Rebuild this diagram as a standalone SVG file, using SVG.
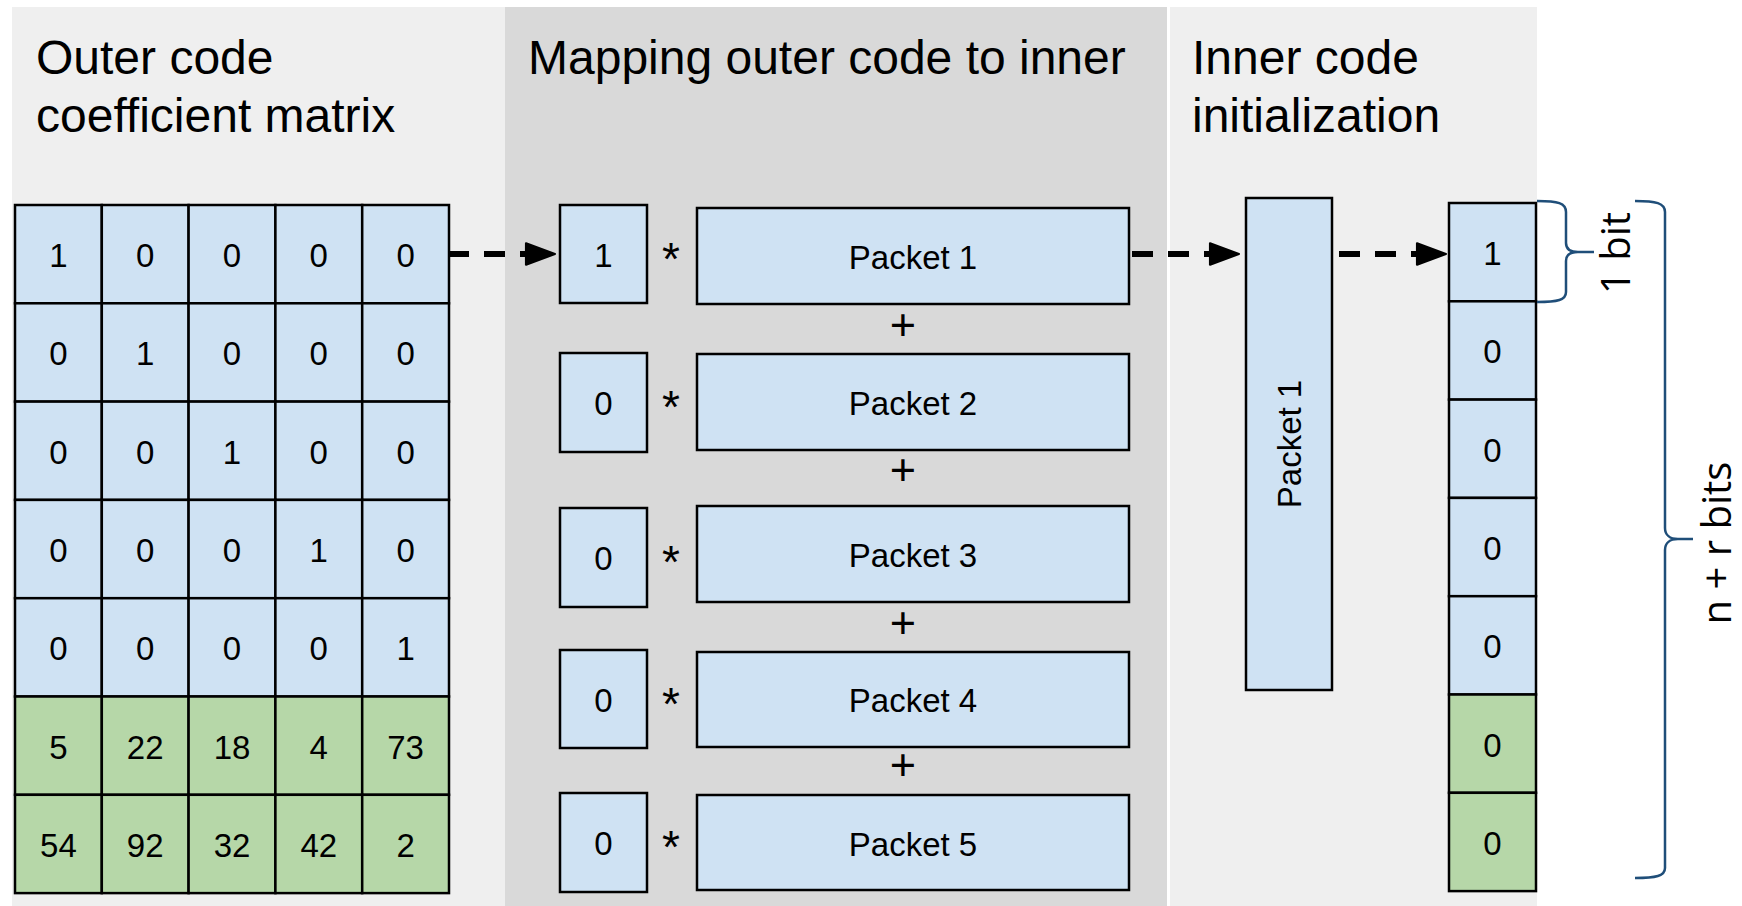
<svg xmlns="http://www.w3.org/2000/svg" width="1742" height="906" viewBox="0 0 1742 906">
<style>
.t{font-family:"Liberation Sans",Arial,sans-serif;fill:#000}
.title{font-size:48px}
.v{font-size:33px;text-anchor:middle}
.star{font-size:46px;text-anchor:middle}
.plus{font-size:45px;text-anchor:middle}
.b{fill:#cfe2f3;stroke:#000;stroke-width:2.5}
.g{fill:#b6d7a8;stroke:#000;stroke-width:2.5}
.dash{fill:none;stroke:#000;stroke-width:6;stroke-dasharray:21 15}
.brace{fill:none;stroke:#1f4e79;stroke-width:2.5}
.bt{font-family:"Open Sans","Noto Sans",sans-serif;font-size:40px;fill:#000;text-anchor:middle}
</style>
<defs>
<marker id="ah" markerUnits="userSpaceOnUse" markerWidth="40" markerHeight="30" viewBox="-3 -14 34 28" refX="0" refY="0" orient="auto">
<path d="M0,-10 L27,0 L0,10 Z" fill="#000" stroke="#000" stroke-width="2" stroke-linejoin="round"/>
</marker>
</defs>

<g id="panels">
<rect x="12" y="7" width="493" height="899" fill="#efefef"/>
<rect x="505" y="7" width="662" height="899" fill="#d9d9d9"/>
<rect x="1170" y="7" width="367" height="899" fill="#efefef"/>
</g>

<g id="titles">
<text class="t title" x="36" y="74">Outer code</text>
<text class="t title" x="36" y="132">coefficient matrix</text>
<text class="t title" x="528" y="74">Mapping outer code to inner</text>
<text class="t title" x="1192" y="74">Inner code</text>
<text class="t title" x="1192" y="132">initialization</text>
</g>

<g id="matrix">
<rect class="b" x="15" y="205" width="86.8" height="98.3"/><rect class="b" x="101.8" y="205" width="86.8" height="98.3"/><rect class="b" x="188.6" y="205" width="86.8" height="98.3"/><rect class="b" x="275.4" y="205" width="86.8" height="98.3"/><rect class="b" x="362.2" y="205" width="86.8" height="98.3"/>
<rect class="b" x="15" y="303.3" width="86.8" height="98.3"/><rect class="b" x="101.8" y="303.3" width="86.8" height="98.3"/><rect class="b" x="188.6" y="303.3" width="86.8" height="98.3"/><rect class="b" x="275.4" y="303.3" width="86.8" height="98.3"/><rect class="b" x="362.2" y="303.3" width="86.8" height="98.3"/>
<rect class="b" x="15" y="401.6" width="86.8" height="98.3"/><rect class="b" x="101.8" y="401.6" width="86.8" height="98.3"/><rect class="b" x="188.6" y="401.6" width="86.8" height="98.3"/><rect class="b" x="275.4" y="401.6" width="86.8" height="98.3"/><rect class="b" x="362.2" y="401.6" width="86.8" height="98.3"/>
<rect class="b" x="15" y="499.9" width="86.8" height="98.3"/><rect class="b" x="101.8" y="499.9" width="86.8" height="98.3"/><rect class="b" x="188.6" y="499.9" width="86.8" height="98.3"/><rect class="b" x="275.4" y="499.9" width="86.8" height="98.3"/><rect class="b" x="362.2" y="499.9" width="86.8" height="98.3"/>
<rect class="b" x="15" y="598.2" width="86.8" height="98.3"/><rect class="b" x="101.8" y="598.2" width="86.8" height="98.3"/><rect class="b" x="188.6" y="598.2" width="86.8" height="98.3"/><rect class="b" x="275.4" y="598.2" width="86.8" height="98.3"/><rect class="b" x="362.2" y="598.2" width="86.8" height="98.3"/>
<rect class="g" x="15" y="696.5" width="86.8" height="98.3"/><rect class="g" x="101.8" y="696.5" width="86.8" height="98.3"/><rect class="g" x="188.6" y="696.5" width="86.8" height="98.3"/><rect class="g" x="275.4" y="696.5" width="86.8" height="98.3"/><rect class="g" x="362.2" y="696.5" width="86.8" height="98.3"/>
<rect class="g" x="15" y="794.8" width="86.8" height="98.3"/><rect class="g" x="101.8" y="794.8" width="86.8" height="98.3"/><rect class="g" x="188.6" y="794.8" width="86.8" height="98.3"/><rect class="g" x="275.4" y="794.8" width="86.8" height="98.3"/><rect class="g" x="362.2" y="794.8" width="86.8" height="98.3"/>
<text class="t v" x="58.4" y="267">1</text><text class="t v" x="145.2" y="267">0</text><text class="t v" x="232" y="267">0</text><text class="t v" x="318.8" y="267">0</text><text class="t v" x="405.6" y="267">0</text>
<text class="t v" x="58.4" y="365.3">0</text><text class="t v" x="145.2" y="365.3">1</text><text class="t v" x="232" y="365.3">0</text><text class="t v" x="318.8" y="365.3">0</text><text class="t v" x="405.6" y="365.3">0</text>
<text class="t v" x="58.4" y="463.6">0</text><text class="t v" x="145.2" y="463.6">0</text><text class="t v" x="232" y="463.6">1</text><text class="t v" x="318.8" y="463.6">0</text><text class="t v" x="405.6" y="463.6">0</text>
<text class="t v" x="58.4" y="561.9">0</text><text class="t v" x="145.2" y="561.9">0</text><text class="t v" x="232" y="561.9">0</text><text class="t v" x="318.8" y="561.9">1</text><text class="t v" x="405.6" y="561.9">0</text>
<text class="t v" x="58.4" y="660.2">0</text><text class="t v" x="145.2" y="660.2">0</text><text class="t v" x="232" y="660.2">0</text><text class="t v" x="318.8" y="660.2">0</text><text class="t v" x="405.6" y="660.2">1</text>
<text class="t v" x="58.4" y="758.5">5</text><text class="t v" x="145.2" y="758.5">22</text><text class="t v" x="232" y="758.5">18</text><text class="t v" x="318.8" y="758.5">4</text><text class="t v" x="405.6" y="758.5">73</text>
<text class="t v" x="58.4" y="856.8">54</text><text class="t v" x="145.2" y="856.8">92</text><text class="t v" x="232" y="856.8">32</text><text class="t v" x="318.8" y="856.8">42</text><text class="t v" x="405.6" y="856.8">2</text>
</g>

<g id="coef1"><rect class="b" x="560" y="205" width="87" height="98"/><text class="t v" x="603.5" y="267">1</text></g>
<g id="coef2"><rect class="b" x="560" y="353" width="87" height="99"/><text class="t v" x="603.5" y="415">0</text></g>
<g id="coef3"><rect class="b" x="560" y="508" width="87" height="99"/><text class="t v" x="603.5" y="570">0</text></g>
<g id="coef4"><rect class="b" x="560" y="650" width="87" height="98"/><text class="t v" x="603.5" y="712">0</text></g>
<g id="coef5"><rect class="b" x="560" y="793" width="87" height="99"/><text class="t v" x="603.5" y="855">0</text></g>

<g id="ops">
<text class="t star" x="671" y="275">*</text>
<text class="t star" x="671" y="423">*</text>
<text class="t star" x="671" y="578">*</text>
<text class="t star" x="671" y="720">*</text>
<text class="t star" x="671" y="863">*</text>
<text class="t plus" x="903" y="340">+</text>
<text class="t plus" x="903" y="485">+</text>
<text class="t plus" x="903" y="638">+</text>
<text class="t plus" x="903" y="780">+</text>
</g>

<g id="packet1"><rect class="b" x="697" y="208" width="432" height="96"/><text class="t v" x="913" y="269">Packet 1</text></g>
<g id="packet2"><rect class="b" x="697" y="354" width="432" height="96"/><text class="t v" x="913" y="415">Packet 2</text></g>
<g id="packet3"><rect class="b" x="697" y="506" width="432" height="96"/><text class="t v" x="913" y="567">Packet 3</text></g>
<g id="packet4"><rect class="b" x="697" y="652" width="432" height="95"/><text class="t v" x="913" y="712">Packet 4</text></g>
<g id="packet5"><rect class="b" x="697" y="795" width="432" height="95"/><text class="t v" x="913" y="856">Packet 5</text></g>

<g id="inner-packet"><rect class="b" x="1246" y="198" width="86" height="492"/><text class="t v" transform="translate(1301,444) rotate(-90)">Packet 1</text></g>

<g id="bits">
<rect class="b" x="1449" y="203" width="87" height="98.3"/>
<rect class="b" x="1449" y="301.3" width="87" height="98.3"/>
<rect class="b" x="1449" y="399.6" width="87" height="98.3"/>
<rect class="b" x="1449" y="497.9" width="87" height="98.3"/>
<rect class="b" x="1449" y="596.2" width="87" height="98.3"/>
<rect class="g" x="1449" y="694.5" width="87" height="98.3"/>
<rect class="g" x="1449" y="792.8" width="87" height="98.3"/>
<text class="t v" x="1492.5" y="265">1</text>
<text class="t v" x="1492.5" y="363.3">0</text>
<text class="t v" x="1492.5" y="461.6">0</text>
<text class="t v" x="1492.5" y="559.9">0</text>
<text class="t v" x="1492.5" y="658.2">0</text>
<text class="t v" x="1492.5" y="756.5">0</text>
<text class="t v" x="1492.5" y="854.8">0</text>
</g>

<g id="connectors">
<path class="dash" d="M448,254 L526,254" marker-end="url(#ah)"/>
<path class="dash" d="M1132,254 L1210,254" marker-end="url(#ah)"/>
<path class="dash" d="M1339,254 L1417,254" marker-end="url(#ah)"/>
</g>

<g id="brace-1bit">
<path class="brace" d="M1537,201 C1558,201 1566,203 1566,212 L1566,243 C1566,249 1570,252 1578,252 L1594,252 M1578,252 C1570,252 1566,255 1566,261 L1566,292 C1566,300 1558,302 1537,302"/>
<text class="bt" transform="translate(1630,253) rotate(-90)">1 bit</text>
</g>

<g id="brace-nr">
<path class="brace" d="M1635,201 C1656,201 1665,203 1665,212 L1665,528 C1665,535 1670,539 1678,539 L1693,539 M1678,539 C1670,539 1665,543 1665,550 L1665,868 C1665,876 1656,878 1635,878"/>
<text class="bt" transform="translate(1731,543) rotate(-90)">n + r bits</text>
</g>
</svg>
